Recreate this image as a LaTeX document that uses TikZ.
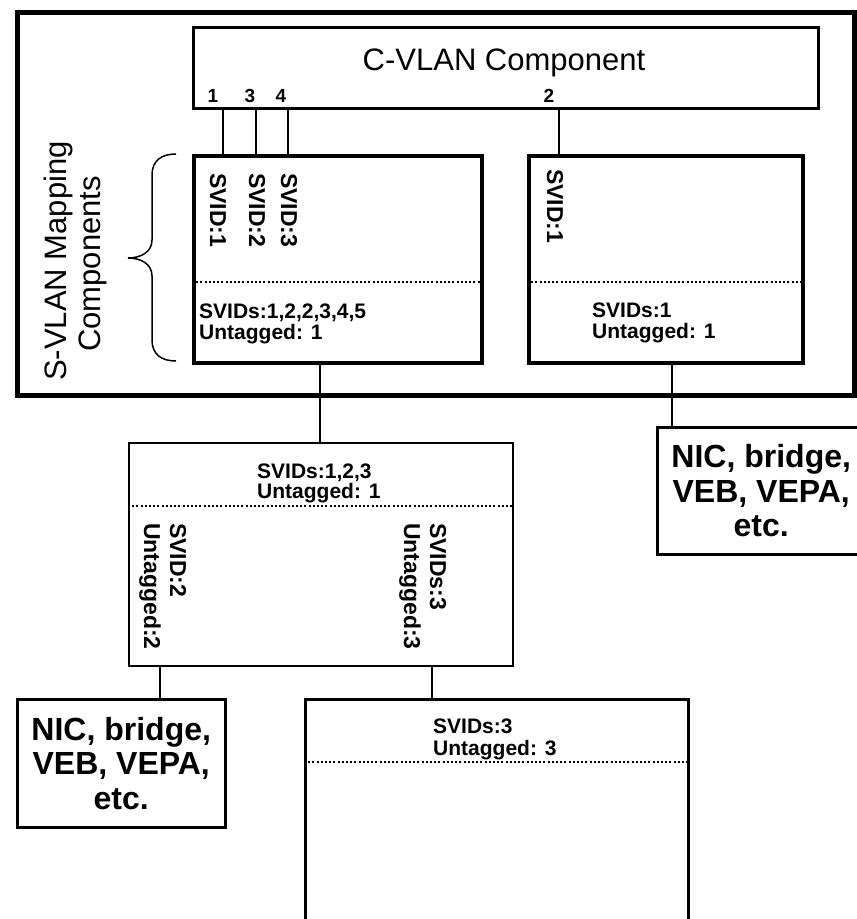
\documentclass[tikz,border=0pt]{standalone}
\usepackage{fontspec}
\setmainfont{Liberation Sans}
\begin{document}
\begin{tikzpicture}[x=1pt,y=-1pt,
  box/.style={draw, rectangle, inner sep=0pt, anchor=north west},
  big/.style={font=\fontsize{31}{35}\selectfont, inner sep=0pt},
  small/.style={font=\fontsize{21}{23}\selectfont\bfseries, inner sep=0pt},
  port/.style={font=\fontsize{19}{21}\selectfont\bfseries, inner sep=0pt},
  nic/.style={box, line width=2.5pt, font=\fontsize{32}{34.5}\selectfont\bfseries, align=center, minimum width=208pt},
  wire/.style={line width=2pt},
  dotline/.style={line width=2pt, dash pattern=on 2pt off 2.2pt},
  vlab/.style={font=\fontsize{23}{25}\selectfont\bfseries, inner sep=0pt, rotate=-90, anchor=base west}
]
\useasboundingbox (0,0) rectangle (857,919);

% boxes
\node[box, line width=5pt, minimum width=837pt, minimum height=383pt] (frame) at (15,10) {};
\node[box, line width=3.3pt, minimum width=625pt, minimum height=81pt] (cvlan) at (192,26) {};
\node[box, line width=4pt, minimum width=288pt, minimum height=207pt] (lmap) at (192,154) {};
\node[box, line width=4pt, minimum width=274pt, minimum height=207pt] (rmap) at (527,154) {};
\node[box, line width=2.3pt, minimum width=384pt, minimum height=223pt] (mid) at (128,442) {};
\node[nic, minimum height=127pt] (nicR) at (656,426) {NIC, bridge,\\VEB, VEPA,\\etc.};
\node[nic, minimum height=128pt] (nicL) at (16,698) {NIC, bridge,\\VEB, VEPA,\\etc.};
\node[box, line width=2.5pt, minimum width=383pt, minimum height=224pt] (bot) at (304,698) {};

% dotted separators
\draw[dotline] ([yshift=-128pt]lmap.north west) -- ([yshift=-128pt]lmap.north east);
\draw[dotline] ([yshift=-128pt]rmap.north west) -- ([yshift=-128pt]rmap.north east);
\draw[dotline] ([yshift=-64pt]mid.north west) -- ([yshift=-64pt]mid.north east);
\draw[dotline] ([yshift=-64pt]bot.north west) -- ([yshift=-64pt]bot.north east);

% connector positions
\coordinate (c1) at (223,0);
\coordinate (c3) at (256,0);
\coordinate (c4) at (288,0);
\coordinate (c2) at (559,0);
\coordinate (cm) at (320,0);
\coordinate (cr) at (672,0);
\coordinate (cl) at (160,0);
\coordinate (cb) at (432,0);

\draw[wire] (c1 |- cvlan.south) -- (c1 |- lmap.north);
\draw[wire] (c3 |- cvlan.south) -- (c3 |- lmap.north);
\draw[wire] (c4 |- cvlan.south) -- (c4 |- lmap.north);
\draw[wire] (c2 |- cvlan.south) -- (c2 |- rmap.north);
\draw[wire] (cm |- lmap.south) -- (cm |- mid.north);
\draw[wire] (cr |- rmap.south) -- (cr |- nicR.north);
\draw[wire] (cl |- mid.south) -- (cl |- nicL.north);
\draw[wire] (cb |- mid.south) -- (cb |- bot.north);

% C-VLAN texts
\node[big, anchor=base] (ctitle) at (504,70) {C-VLAN Component};
\node[port, anchor=base] (n1) at (213,102) {1};
\node[port, anchor=base] (n3) at (250,102) {3};
\node[port, anchor=base] (n4) at (281,102) {4};
\node[port, anchor=base] (n2) at (549,102) {2};

% left mapping box
\node[vlab] (ls1) at (210,173) {SVID:1};
\node[vlab] (ls2) at (249,173) {SVID:2};
\node[vlab] (ls3) at (281,173) {SVID:3};
\node[small, anchor=base west] (lt1) at (199,318) {SVIDs:1,2,2,3,4,5};
\node[small, anchor=base west] (lt2) at (199,339) {Untagged: 1};

% right mapping box
\node[vlab] (rs1) at (547,169) {SVID:1};
\node[small, anchor=base west] (rt1) at (592,317) {SVIDs:1};
\node[small, anchor=base west] (rt2) at (592,338) {Untagged: 1};

% middle box
\node[small, anchor=base west] (mt1) at (257,478) {SVIDs:1,2,3};
\node[small, anchor=base west] (mt2) at (257,498) {Untagged: 1};
\node[vlab] (ma1) at (170,523) {SVID:2};
\node[vlab] (ma2) at (144,523) {Untagged:2};
\node[vlab] (mb1) at (430,523) {SVIDs:3};
\node[vlab] (mb2) at (404,523) {Untagged:3};

% bottom box
\node[small, anchor=base west] (bt1) at (433,733) {SVIDs:3};
\node[small, anchor=base west] (bt2) at (433,755) {Untagged: 3};

% brace and label
\draw[line width=1.5pt] (176,154) .. controls (161,154) and (152,161) .. (152,175)
  -- (152,240) .. controls (152,252) and (141,258) .. (128,258)
  .. controls (141,258) and (152,264) .. (152,276)
  -- (152,340) .. controls (152,354) and (161,361) .. (176,361);
\node[big, rotate=90, anchor=base] (sl1) at (66,261) {S-VLAN Mapping};
\node[big, rotate=90, anchor=base] (sl2) at (100,264) {Components};
\end{tikzpicture}
\end{document}
